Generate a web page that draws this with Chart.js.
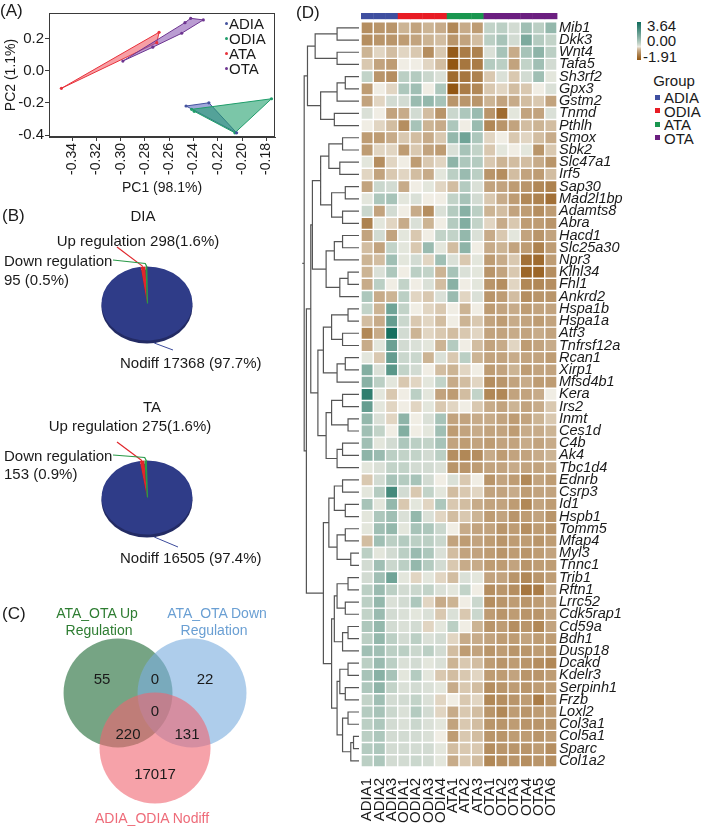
<!DOCTYPE html>
<html><head><meta charset="utf-8">
<script src="https://cdn.jsdelivr.net/npm/chart.js@4.4.1/dist/chart.umd.min.js"></script>
<style>
html,body{margin:0;padding:0;background:#fff}
body{width:709px;height:827px;position:relative;overflow:hidden;font-family:"Liberation Sans",Arial,Helvetica,sans-serif;color:#1a1a1a}
canvas{position:absolute;display:block}
.t{position:absolute;white-space:nowrap;line-height:1}
</style></head><body>
<canvas id="pca" width="290" height="200" style="left:0;top:0"></canvas>
<canvas id="pieDIA" width="290" height="190" style="left:0;top:200px"></canvas>
<canvas id="pieTA" width="290" height="190" style="left:0;top:394px"></canvas>
<canvas id="venn" width="290" height="237" style="left:0;top:590px"></canvas>
<canvas id="dendro" width="61" height="827" style="left:300px;top:0"></canvas>
<canvas id="heat" width="280" height="827" style="left:355px;top:0"></canvas>
<script>
// ================= DATA =================
// Panel A: PCA scores (PC1, PC2), listed in hull order
const pcaADIA = [[-0.2462,-0.219],[-0.2274,-0.199],[-0.2046,-0.386]];
const pcaODIA = [[-0.2416,-0.240],[-0.1759,-0.174],[-0.2060,-0.386],[-0.2395,-0.252]];
const pcaATA  = [[-0.3488,-0.109],[-0.2684,0.240],[-0.2703,0.175]];
const pcaOTA  = [[-0.2982,0.061],[-0.2471,0.300],[-0.2424,0.327],[-0.2320,0.317],[-0.2498,0.234],[-0.2736,0.147]];
const pcaGroups = ['ADIA','ODIA','ATA','OTA'];

// Panel B: differential expression counts and shares
const pieCategories = ['Nodiff','Up regulation','Down regulation'];
const diaCounts = [17368, 298, 95];
const diaPercents = [97.7, 1.6, 0.5];
const taCounts  = [16505, 275, 153];
const taPercents = [97.4, 1.6, 0.9];

// Panel C: Venn region counts
const vennSets = ['ATA_OTA Up Regulation','ATA_OTA Down Regulation','ADIA_ODIA Nodiff'];
const vennRegionCounts = [55, 0, 22, 0, 220, 131, 17017];

// Panel D: heatmap
const samples = ['ADIA1','ADIA2','ADIA3','ODIA1','ODIA2','ODIA3','ODIA4','ATA1','ATA2','ATA3','OTA1','OTA2','OTA3','OTA4','OTA5','OTA6'];
const sampleGroups = ['ADIA','ADIA','ADIA','ODIA','ODIA','ODIA','ODIA','ATA','ATA','ATA','OTA','OTA','OTA','OTA','OTA','OTA'];
const genes = ['Mib1','Dkk3','Wnt4','Tafa5','Sh3rf2','Gpx3','Gstm2','Tnmd','Pthlh','Smox','Sbk2','Slc47a1','Irf5','Sap30','Mad2l1bp','Adamts8','Abra','Hacd1','Slc25a30','Npr3','Klhl34','Fhl1','Ankrd2','Hspa1b','Hspa1a','Atf3','Tnfrsf12a','Rcan1','Xirp1','Mfsd4b1','Kera','Irs2','Inmt','Ces1d','C4b','Ak4','Tbc1d4','Ednrb','Csrp3','Id1','Hspb1','Tomm5','Mfap4','Myl3','Tnnc1','Trib1','Rftn1','Lrrc52','Cdk5rap1','Cd59a','Bdh1','Dusp18','Dcakd','Kdelr3','Serpinh1','Frzb','Loxl2','Col3a1','Col5a1','Sparc','Col1a2'];
const zscores = [
[-0.9,-0.8,-0.8,-0.4,-0.6,-0.4,-0.5,-1.0,-0.5,-0.7,0.5,0.6,0.3,1.0,0.6,1.2],
[-0.9,-0.8,-0.8,-0.7,-0.6,-0.4,-0.3,-0.8,-0.6,-0.3,0.6,0.9,0.3,1.6,0.7,0.5],
[-0.4,-0.1,-0.3,-0.1,-0.2,-0.9,-0.2,-1.8,-1.2,-1.1,0.2,0.9,-0.5,0.9,1.3,0.6],
[-0.2,-0.6,-0.7,0,0,-0.1,-0.3,-1.9,-1.3,-1.2,0.7,0.6,-0.6,0.5,1.0,0.3],
[0.5,-0.8,-0.9,0.6,0.7,0.4,0.2,-1.5,-1.3,-1.1,-0.2,0.2,-0.2,0.3,1.0,0.1],
[-0.7,0,-0.1,0.8,1.0,0,0.8,-1.9,-1.2,-1.0,-0.2,-0.1,-0.3,-0.2,0,0.2],
[-0.6,-0.1,0.3,0.3,1.1,1.2,0.9,-0.8,-0.8,-0.8,-0.4,-0.6,-0.5,-0.3,-0.2,-0.6],
[0.2,0,-0.6,-0.5,0.3,-0.3,-0.8,0.4,0.8,1.1,-0.8,-1.5,0.1,-0.6,-0.6,0.2],
[0,-0.1,-0.3,-0.9,0.9,-0.4,-0.5,0.8,0,1.1,-1.0,-0.8,-0.6,-0.3,-0.4,-0.3],
[-0.7,-0.7,-0.5,-0.2,-0.3,-0.5,-0.2,1.2,1.8,0.8,-0.1,0,-0.2,-0.1,-0.3,-0.5],
[-0.7,-0.1,-0.1,-0.7,-0.2,-0.6,-0.7,0.2,0.9,0.5,-0.2,0.1,0,0.1,-0.8,-0.2],
[0.1,-0.9,-0.1,0,-0.7,-0.2,-0.1,1.3,0.8,0.7,-0.2,-0.4,-0.3,-0.3,-0.5,-0.8],
[-0.1,-0.6,-0.2,-0.1,-0.3,-0.5,0.1,0.6,1.1,0.6,-0.8,-0.9,-0.3,-0.6,-0.7,-0.3],
[-0.6,0.4,0.3,-0.5,0,0.1,-0.1,-0.3,0.7,0.2,-0.6,-0.6,-0.7,-0.8,-1.0,-1.1],
[0.1,0.8,0.9,0.1,0.2,0,0,0.5,0.9,0.3,-0.2,-0.5,-0.7,-1.0,-1.1,-1.4],
[0.4,-0.6,0.3,0,-0.5,-0.9,0.2,0.7,1.4,0.6,-0.4,-0.3,-0.6,-0.7,-0.9,-0.7],
[-1.1,0.1,-0.1,-0.5,0.2,-0.4,0,0.7,1.5,0.5,-0.1,-0.5,-0.2,-0.7,-0.7,-0.8],
[-0.6,0.3,-0.6,0.1,-0.2,0,0.5,0.5,1.2,0.2,-0.5,-0.2,0.1,-0.6,-0.8,-0.6],
[-0.3,-0.6,0.5,0.1,-0.2,1.1,0.1,-0.3,1.3,0,-0.5,-0.4,-0.6,-0.7,-1.1,-0.7],
[-0.4,-0.3,1.0,0.1,0.3,-0.1,1.0,0.2,-0.2,0.1,-0.7,-0.5,-0.2,-1.4,-1.5,-0.7],
[-0.4,0.2,0.8,0,0.6,0.5,-0.4,0.9,0.2,0.1,-0.8,-0.6,-0.2,-1.6,-1.6,-0.9],
[-0.5,0.6,0,0.5,0,0.2,-0.3,1.4,0,0.1,-0.8,-0.9,-0.1,-1.0,-1.0,-0.9],
[0.8,-0.5,-0.4,0.6,-0.1,-0.2,0.2,1.1,-0.1,0.2,-0.8,-0.7,-0.3,-0.9,-0.8,-0.8],
[0.5,-0.4,1.8,0.5,0,-0.1,-0.2,0,-0.4,0,-0.7,-0.6,-0.5,-0.7,-0.6,-0.6],
[-0.3,-0.5,2.0,0.4,-0.2,-0.1,-0.3,0,-0.4,-0.2,-0.6,-0.7,-0.5,-0.6,-0.7,-0.6],
[-1.0,-0.5,3.5,0.3,-0.4,-0.1,-0.2,-0.3,-0.2,-0.1,-0.6,-0.6,-0.5,-0.6,-0.5,-0.6],
[-0.5,0.1,1.9,0.3,0.2,0.1,-0.4,0.7,0,-0.3,-0.6,-0.5,-0.1,-0.7,-0.6,-0.5],
[0.1,-0.2,2.0,0.4,0.4,-0.4,0.2,-0.2,0.6,-0.4,-0.6,-0.6,-0.5,-0.6,-0.6,-0.7],
[1.5,0.2,2.2,0.5,0.3,0,-0.3,-0.4,-0.1,0,-0.7,-0.6,-0.4,-0.7,-0.6,-0.6],
[1.4,0.6,0.1,-0.2,-0.1,0.1,0.5,-0.5,-0.3,-0.1,-0.9,-0.8,-0.6,-0.5,-0.7,-0.7],
[3.0,0.1,-0.2,0,0.6,0.1,-0.6,-0.7,-0.3,0.5,-1.0,-1.0,-0.6,-0.6,-0.5,0],
[2.0,0.1,-0.1,0,-0.1,0.1,-0.2,-0.1,0,-0.2,-0.5,-0.6,-0.4,-0.6,-0.5,-0.2],
[1.2,0.2,-0.1,1.3,0,0.2,0.9,-0.6,-0.6,-0.5,-0.5,-0.6,-0.7,-0.6,-0.4,-0.2],
[1.0,0.5,0,1.5,0,0.1,1.0,-0.7,-0.6,-0.5,-0.6,-0.6,-0.7,-0.5,-0.5,-0.4],
[1.0,0.1,0.3,0.8,0.6,0.5,0.9,-0.6,-0.7,-0.6,-0.7,-0.6,-0.6,-0.5,-0.6,-0.5],
[1.3,1.1,0.6,0.5,0.5,0.3,0.6,-0.9,-1.0,-0.9,-0.5,-0.7,-0.6,-0.6,-0.5,-0.4],
[0.1,0.2,0.5,0.5,0.3,0.3,0.2,-0.8,-0.8,-0.7,-0.6,-0.6,-0.5,-0.6,-0.6,-0.5],
[-0.2,0.3,0.9,0.7,0.9,0.3,0,0.2,-0.2,0,-0.8,-0.6,-0.7,-1.0,-0.6,-0.7],
[0.1,0.7,2.6,0.3,-0.2,0.5,0.1,-0.3,-0.2,-0.1,-0.6,-0.6,-0.5,-0.7,-0.6,-0.6],
[0.9,0.1,1.2,-0.2,0.1,-0.1,0.8,-0.2,-0.3,-0.5,-0.6,-0.6,-0.7,-1.0,-0.6,-0.7],
[0.1,0.8,1.0,0.2,1.2,0.2,-0.1,-0.3,-0.2,-0.4,-0.7,-0.6,-0.8,-0.7,-0.6,-0.8],
[0.1,1.0,1.2,0.1,0.9,0.8,0.4,0,-0.5,-0.6,-0.6,-0.8,-0.7,-0.9,-0.7,-0.8],
[-0.3,1.0,0.6,0.7,0.6,0.6,0.4,-0.6,-0.7,-0.6,-0.7,-0.8,-0.7,-0.7,-0.8,-0.7],
[0.6,0.1,0.3,0.6,1.1,0.8,0.2,-0.3,-0.6,-0.6,-0.7,-0.8,-0.7,-0.8,-0.7,-0.6],
[0.3,1.0,0.4,0.6,1.2,0.7,0.3,-0.2,-0.5,-0.5,-0.7,-0.7,-0.6,-0.8,-0.7,-0.7],
[0.3,1.0,1.8,0.1,-0.1,0.1,-0.1,-0.3,0.2,0.1,-0.6,-0.6,-0.8,-1.0,-0.8,-0.7],
[0.6,1.1,0.6,0.3,0.4,0.5,0.2,0.1,0.5,0,-0.9,-0.8,-0.9,-1.3,-1.2,-0.5],
[0.6,1.2,0.2,0.3,0.8,-0.1,-0.5,-0.4,0,0.4,-0.9,-0.8,-0.7,-0.8,-0.7,-0.6],
[0.5,1.1,0.3,0.2,0.1,0.2,-0.2,0.2,-0.2,0.4,-0.7,-0.8,-0.7,-0.8,-0.8,-0.6],
[0.8,1.2,0.3,0.2,0.3,-0.1,0.1,0.6,0,-0.4,-0.8,-0.7,-0.9,-0.8,-1.0,-0.6],
[0.6,1.2,0.6,0.3,0.6,0.2,0.3,-0.1,-0.5,-0.5,-0.6,-0.7,-0.7,-0.6,-0.7,-0.7],
[1.0,1.0,0.6,0.6,0.4,0.6,0.3,-0.3,-0.7,-0.6,-0.8,-0.7,-0.8,-0.8,-0.7,-0.8],
[0.6,1.1,0.6,0.2,0.3,0.1,0.2,-0.4,-0.2,-0.3,-0.7,-0.8,-0.7,-0.8,-0.9,-1.0],
[0.9,1.4,0.9,0.1,0.7,0.1,-0.2,-0.3,-0.2,-0.1,-0.7,-0.7,-0.6,-0.8,-0.8,-0.7],
[0.8,1.3,0.5,0.2,0.3,0.2,0.1,-0.5,-0.2,-0.3,-0.9,-0.8,-0.7,-0.8,-0.7,-0.7],
[0.5,1.0,0.3,0.3,0.5,0.2,-0.1,0,-0.2,-0.1,-1.0,-0.9,-0.8,-0.7,-1.2,-0.7],
[0.7,0.9,0.4,0.2,0.7,0.3,-0.1,-0.5,-0.2,-0.3,-0.8,-1.0,-0.7,-0.8,-0.7,-0.7],
[0.6,0.8,0.3,0.2,0.4,0.2,0.1,-0.6,-0.2,-0.3,-0.8,-0.8,-0.7,-0.8,-0.8,-0.8],
[0.6,0.8,0.3,0.3,0.3,0.2,0,-0.7,-0.2,-0.3,-0.8,-0.8,-0.7,-0.7,-0.8,-0.7],
[0.7,0.8,0.3,0.3,0.3,0.3,0.1,-0.3,-0.2,-0.2,-0.9,-0.8,-0.8,-0.8,-0.7,-0.9],
[0.6,0.8,0.3,0.3,0.4,0.3,0.1,-0.5,-0.2,-0.3,-1.0,-0.9,-0.8,-0.9,-0.8,-0.9]
];
const colorScaleTicks = [3.64, 0.00, -1.91];

// Row dendrogram: [left, right, mergeHeight], leaves are row indices
const dendroT1 = [[[0,1,4],[2,3,4],8],[[[4,5,2.5],6,4],[7,8,4.5],7],9.4];
const dendroT2 = [[[[9,10,3],[11,12,3.5],5.5],[[13,14,2.5],[15,16,3],5],7],[[[17,18,3],19,4.5],[[20,21,2],22,3.5],6],8.5];
const dendroT3 = [[[23,24,2],[25,26,3],5],[[27,28,2.5],29,4],6.5];
const dendroT4 = [[[30,31,3],[32,33,2],5],[[34,35,3],36,4],6];
const dendroB1 = [[[37,38,3],[39,40,2.5],4.5],[[41,42,2.5],[43,44,1.5],4],5.5];
const dendroB2 = [[[45,46,2],[47,48,2.5],4],[[49,50,2],51,3],4.5];
const dendroB3 = [[[52,53,2],[54,55,2.5],3.5],[[56,57,2],[[58,59,1],60,1.5],3],4];
const dendrogram = [dendroT1, [[dendroT2, [dendroT3, dendroT4, 7.5], 8.8], [dendroB1, [dendroB2, dendroB3, 5], 6.5], 9.6], 10];

// ================= STYLE =================
Chart.defaults.font.family = '"Liberation Sans", Arial, Helvetica, sans-serif';
Chart.defaults.color = '#1a1a1a';
const pcaLine = {ADIA:'#44539f', ODIA:'#1f9d6a', ATA:'#e8323b', OTA:'#6d3590'};
const pcaFill = {ADIA:'rgba(80,95,185,0.55)', ODIA:'rgba(35,160,110,0.6)', ATA:'rgba(242,95,105,0.6)', OTA:'rgba(140,90,180,0.6)'};
const groupColors = {ADIA:'#3f4fa0', ODIA:'#e81c24', ATA:'#19964f', OTA:'#6b1f80'};
const pieColors = ['#2f3c88','#e0262b','#2a9a48'];
const MID=[240,237,228], NEG=[146,86,18], POS=[16,108,92];
function heatColor(v){
  let t, c;
  if (v < 0){ t = Math.pow(Math.min(1, -v/1.91), 0.62); c = NEG; }
  else { t = Math.pow(Math.min(1, v/3.64), 0.8); c = POS; }
  const m = MID.map((a,i)=>Math.round(a + (c[i]-a)*t));
  return `rgb(${m[0]},${m[1]},${m[2]})`;
}
function addText(str, x, y, o={}){
  const d=document.createElement('div'); d.className='t'; d.textContent=str;
  d.style.left=x+'px'; d.style.top=y+'px'; d.style.fontSize=(o.size||14)+'px';
  if(o.color) d.style.color=o.color;
  if(o.italic) d.style.fontStyle='italic';
  const ax = o.align==='center'?'-50%':(o.align==='right'?'-100%':'0');
  d.style.transform=`translate(${ax},-50%)`;
  document.body.appendChild(d);
  return d;
}
const base = {responsive:false, animation:false, devicePixelRatio:1, events:[]};

// ================= PANEL A =================
const pcaData = {ADIA:pcaADIA, ODIA:pcaODIA, ATA:pcaATA, OTA:pcaOTA};
const hullPlugin = {id:'hull', beforeDatasetsDraw(chart){
  const ctx = chart.ctx;
  chart.data.datasets.forEach((ds,i)=>{
    const pts = chart.getDatasetMeta(i).data;
    ctx.save(); ctx.beginPath();
    pts.forEach((p,j)=> j ? ctx.lineTo(p.x,p.y) : ctx.moveTo(p.x,p.y));
    ctx.closePath(); ctx.fillStyle = ds.hullFill; ctx.fill();
    ctx.strokeStyle = ds.borderColor; ctx.lineWidth = 1; ctx.stroke(); ctx.restore();
  });
}};
const boxPlugin = {id:'box', afterDraw(chart){
  const a = chart.chartArea, ctx = chart.ctx;
  ctx.save(); ctx.strokeStyle='#3a3a3a'; ctx.lineWidth=1;
  ctx.strokeRect(Math.round(a.left)+0.5, Math.round(a.top)+0.5, Math.round(a.right-a.left)-1, Math.round(a.bottom-a.top)-1);
  ctx.restore();
}};
new Chart(document.getElementById('pca'), {
  type:'scatter',
  data:{datasets: pcaGroups.map(g=>({label:g, data:pcaData[g].map(p=>({x:p[0],y:p[1]})),
    backgroundColor:pcaLine[g], borderColor:pcaLine[g], hullFill:pcaFill[g], pointRadius:1.6, borderWidth:0}))},
  options:{...base,
    layout:{padding:{left:0,right:15,top:13,bottom:0}},
    plugins:{legend:{display:false}, tooltip:{enabled:false}},
    scales:{
      x:{type:'linear', min:-0.359, max:-0.173,
         ticks:{stepSize:0.02, includeBounds:false, maxRotation:90, minRotation:90, autoSkip:false,
                callback:v=>v.toFixed(2), font:{size:14}, color:'#1a1a1a', padding:2},
         grid:{drawOnChartArea:false, tickLength:4, color:'#3a3a3a'}, border:{color:'#3a3a3a'},
         title:{display:true, text:'PC1 (98.1%)', font:{size:14}, color:'#1a1a1a', padding:{top:2,bottom:3}},
         afterFit:s=>{s.height=63;}},
      y:{type:'linear', min:-0.412, max:0.36,
         ticks:{stepSize:0.1, includeBounds:false, callback:v=>v.toFixed(1), font:{size:15}, color:'#1a1a1a', padding:1},
         grid:{drawOnChartArea:false, tickLength:4, color:'#3a3a3a'}, border:{color:'#3a3a3a'},
         title:{display:true, text:'PC2 (1.1%)', font:{size:14}, color:'#1a1a1a', padding:{top:3,bottom:0}},
         afterFit:s=>{s.width=49;}}
    }},
  plugins:[hullPlugin, boxPlugin]
});
addText('(A)', 0, 10, {size:17});
pcaGroups.forEach((g,i)=>{
  const y = 23 + i*15;
  const dot = document.createElement('div');
  dot.style.cssText = `position:absolute;left:225px;top:${y-1}px;width:3px;height:3px;border-radius:50%;background:${pcaLine[g]}`;
  document.body.appendChild(dot);
  addText(g, 229, y, {size:15});
});

// ================= PANEL B =================
const pie3d = {id:'pie3d',
  beforeDatasetsDraw(chart, args, o){
    const arc = chart.getDatasetMeta(0).data[0];
    const {x, y, outerRadius:R} = arc;
    const ctx = chart.ctx;
    ctx.save(); ctx.fillStyle = o.side; ctx.beginPath();
    ctx.ellipse(x, y + o.depth, R, o.ry, 0, 0, Math.PI*2); ctx.fill(); ctx.restore();
    ctx.save(); ctx.translate(x, y); ctx.scale(1, o.ry/R); ctx.translate(-x, -y);
  },
  afterDatasetsDraw(chart, args, o){
    const ctx = chart.ctx; ctx.restore();
    const arcs = chart.getDatasetMeta(0).data;
    const rim = (arc, a, dy=0) => [arc.x + arc.outerRadius*Math.cos(a), arc.y + o.ry*Math.sin(a) + dy];
    ctx.save(); ctx.lineWidth = 1.2;
    const up = arcs[1]; const pu = rim(up, (up.startAngle+up.endAngle)/2);
    ctx.strokeStyle = pieColors[1]; ctx.beginPath(); ctx.moveTo(pu[0], pu[1]); ctx.lineTo(o.upAnchor[0], o.upAnchor[1]); ctx.stroke();
    const dn = arcs[2]; const pd = rim(dn, (dn.startAngle+dn.endAngle)/2);
    ctx.strokeStyle = pieColors[2]; ctx.beginPath(); ctx.moveTo(dn.x+0.5, dn.y); ctx.lineTo(pd[0]+0.5, pd[1]); ctx.lineTo(pd[0]-1, pd[1]-3); ctx.lineTo(o.downAnchor[0], o.downAnchor[1]); ctx.stroke();
    const nd = arcs[0]; const pn = rim(nd, Math.PI/2 - 0.16, o.depth);
    ctx.strokeStyle = '#3c4b9b'; ctx.lineWidth = 1; ctx.beginPath(); ctx.moveTo(pn[0], pn[1]); ctx.lineTo(o.nodiffAnchor[0], o.nodiffAnchor[1]); ctx.stroke();
    ctx.restore();
  }
};
function makePie(id, counts, anchors){
  return new Chart(document.getElementById(id), {
    type:'pie',
    data:{labels:pieCategories, datasets:[{data:counts, backgroundColor:pieColors, borderWidth:0}]},
    options:{...base,
      layout:{padding:{left:101.5, right:97.5, top:58, bottom:41}},
      plugins:{legend:{display:false}, tooltip:{enabled:false},
        pie3d:{ry:37, depth:3, side:'#232b64', ...anchors}}},
    plugins:[pie3d]
  });
}
makePie('pieDIA', diaCounts, {upAnchor:[117,47], downAnchor:[113,60], nodiffAnchor:[173,150]});
makePie('pieTA', taCounts, {upAnchor:[117,48], downAnchor:[113,61], nodiffAnchor:[178,153]});
addText('(B)', 2, 215, {size:17});
addText('DIA', 143, 215, {size:15, align:'center'});
addText(`Up regulation ${diaCounts[1]}(${diaPercents[1].toFixed(1)}%)`, 138, 240, {size:15, align:'center'});
addText('Down regulation', 4, 260, {size:15});
addText(`${diaCounts[2]} (${diaPercents[2].toFixed(1)}%)`, 4, 279, {size:15});
addText(`Nodiff ${diaCounts[0]} (${diaPercents[0].toFixed(1)}%)`, 120, 362, {size:15});
addText('TA', 152, 406, {size:15, align:'center'});
addText(`Up regulation ${taCounts[1]}(${taPercents[1].toFixed(1)}%)`, 130, 425, {size:15, align:'center'});
addText('Down regulation', 4, 455, {size:15});
addText(`${taCounts[2]} (${taPercents[2].toFixed(1)}%)`, 4, 473, {size:15});
addText(`Nodiff ${taCounts[0]} (${taPercents[0].toFixed(1)}%)`, 120, 557, {size:15});

// ================= PANEL C =================
const vennCenterX = [-0.5, 0.5, 0];
const vennCenterY = [0.372, 0.372, -0.372];
const vennRadius = [0.736, 0.736, 0.75];
const vennFill = ['rgba(40,112,62,0.64)','rgba(125,175,222,0.62)','rgba(240,100,112,0.6)'];
const vennCircles = {id:'vennCircles', beforeDatasetsDraw(chart){
  const xs = chart.scales.x, ctx = chart.ctx;
  const pts = chart.getDatasetMeta(0).data;
  ctx.save();
  pts.forEach((p,i)=>{
    const r = Math.abs(xs.getPixelForValue(vennRadius[i]) - xs.getPixelForValue(0));
    ctx.beginPath(); ctx.arc(p.x, p.y, r, 0, Math.PI*2); ctx.fillStyle = vennFill[i]; ctx.fill();
  });
  ctx.restore();
}};
new Chart(document.getElementById('venn'), {
  type:'scatter',
  data:{datasets:[{label:'Venn', data: vennSets.map((s,i)=>({x:vennCenterX[i], y:vennCenterY[i]})), pointRadius:0}]},
  options:{...base, layout:{padding:0},
    plugins:{legend:{display:false}, tooltip:{enabled:false}},
    scales:{x:{type:'linear', min:-2.095, max:1.824, display:false}, y:{type:'linear', min:-1.439, max:1.764, display:false}}},
  plugins:[vennCircles]
});
addText('(C)', 2, 613, {size:17});
addText('ATA_OTA Up', 97, 613, {size:14, align:'center', color:'#2e7d32'});
addText('Regulation', 99, 630, {size:14, align:'center', color:'#2e7d32'});
addText('ATA_OTA Down', 217, 613, {size:14, align:'center', color:'#6a9fd3'});
addText('Regulation', 214, 630, {size:14, align:'center', color:'#6a9fd3'});
addText('ADIA_ODIA Nodiff', 152, 818, {size:14, align:'center', color:'#ee6b79'});
const vennTextPos = [[102,678],[155,678],[205,678],[155,710],[128,733],[187,733],[155,773]];
vennRegionCounts.forEach((c,i)=>addText(String(c), vennTextPos[i][0], vennTextPos[i][1], {size:15, align:'center'}));

// ================= PANEL D =================
function walkTree(node, segs){
  if (typeof node === 'number') return {y:node, h:0};
  const L = walkTree(node[0], segs), R = walkTree(node[1], segs), h = node[2];
  segs.push({x:L.h,y:L.y},{x:h,y:L.y},{x:h,y:R.y},{x:R.h,y:R.y},{x:null,y:null});
  return {y:(L.y+R.y)/2, h};
}
const dendroSegs = [];
const rootNode = walkTree(dendrogram, dendroSegs);
dendroSegs.push({x:rootNode.h, y:rootNode.y},{x:rootNode.h+0.35, y:rootNode.y});
new Chart(document.getElementById('dendro'), {
  type:'scatter',
  data:{datasets:[{data:dendroSegs, showLine:true, spanGaps:false, borderColor:'#555', borderWidth:1.2, pointRadius:0}]},
  options:{...base, layout:{padding:{left:2,right:2,top:21.7,bottom:60}},
    plugins:{legend:{display:false}, tooltip:{enabled:false}},
    scales:{x:{type:'linear', min:0, max:10.4, reverse:true, display:false},
            y:{type:'linear', min:-0.5, max:60.5, reverse:true, display:false}}}
});
const groupStrip = {id:'groupStrip', afterDraw(chart){
  const xs = chart.scales.x, top = chart.chartArea.top, ctx = chart.ctx;
  const w = (xs.right - xs.left)/samples.length;
  ctx.save();
  sampleGroups.forEach((g,i)=>{ const cx = xs.getPixelForValue(i); ctx.fillStyle = groupColors[g]; ctx.fillRect(cx-w/2, top-8.7, w+0.4, 6.2); });
  ctx.restore();
}};
new Chart(document.getElementById('heat'), {
  type:'bar',
  data:{labels:samples, datasets: genes.map((g,i)=>({label:g, data:samples.map(()=>1),
    backgroundColor: zscores[i].map(heatColor), borderColor:'#ffffff', borderWidth:0.7, borderSkipped:false,
    inflateAmount:0, categoryPercentage:1, barPercentage:1}))},
  options:{...base,
    layout:{padding:{left:6, top:21.7, right:0, bottom:0}},
    plugins:{legend:{display:false}, tooltip:{enabled:false}},
    scales:{
      x:{stacked:true, grid:{display:false, drawTicks:false}, border:{display:false},
         ticks:{maxRotation:90, minRotation:90, autoSkip:false, font:{size:15}, color:'#1a1a1a', padding:11},
         afterFit:s=>{s.height=60;}},
      y:{stacked:true, min:0, max:61, reverse:true, display:false},
      genes:{type:'category', labels:genes, position:'right', offset:true,
         grid:{display:false, drawTicks:false}, border:{display:false},
         ticks:{autoSkip:false, font:{size:14.5, style:'italic'}, color:'#1a1a1a', padding:2},
         afterFit:s=>{s.width=78;}}
    }},
  plugins:[groupStrip]
});
addText('(D)', 296, 12, {size:17});
const cb = document.createElement('div');
const stops = [];
for (let k=0;k<=20;k++){ const v = colorScaleTicks[0] + (colorScaleTicks[2]-colorScaleTicks[0])*k/20; stops.push(`${heatColor(v)} ${k*5}%`); }
cb.style.cssText = `position:absolute;left:637px;top:22px;width:3.5px;height:38px;background:linear-gradient(to bottom, ${stops.join(',')})`;
document.body.appendChild(cb);
addText(colorScaleTicks[0].toFixed(2), 647, 25, {size:15});
addText(colorScaleTicks[1].toFixed(2), 647, 40, {size:15});
addText(colorScaleTicks[2].toFixed(2), 643, 56, {size:15});
addText('Group', 674, 80, {size:15, align:'center'});
pcaGroups.forEach((g,i)=>{
  const y = 97 + i*13.6;
  const sq = document.createElement('div');
  sq.style.cssText = `position:absolute;left:655px;top:${y-2.5}px;width:5px;height:5px;background:${groupColors[g]}`;
  document.body.appendChild(sq);
  addText(g, 664, y, {size:15});
});
</script></body></html>
